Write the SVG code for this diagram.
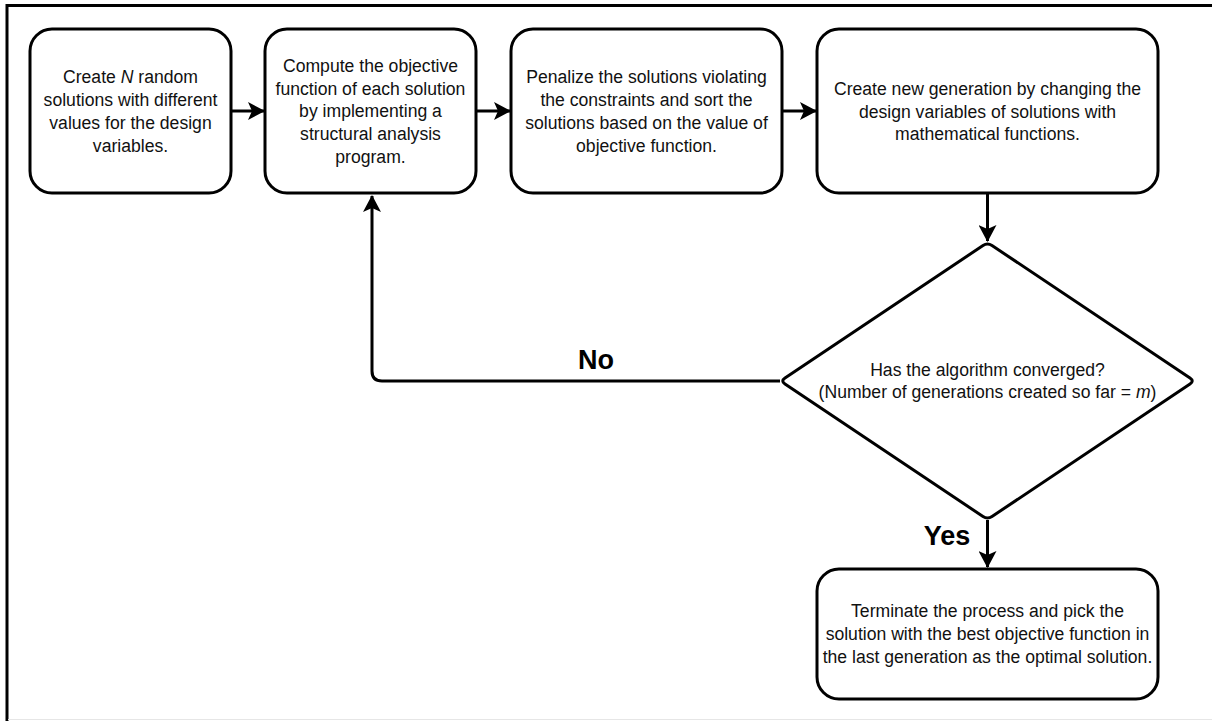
<svg xmlns="http://www.w3.org/2000/svg" width="1212" height="721" viewBox="0 0 1212 721">
<style>
.box{fill:#fff;stroke:#000;stroke-width:3}
.t{font-family:"Liberation Sans",Arial,sans-serif;font-size:17.6px;fill:#111;text-anchor:middle}
.lbl{font-family:"Liberation Sans",Arial,sans-serif;font-size:27px;font-weight:bold;fill:#000;text-anchor:middle}
.c{fill:none;stroke:#000;stroke-width:3}
</style>
<defs>
<marker id="ah" viewBox="0 0 17 18" refX="16" refY="9" markerWidth="17" markerHeight="18" markerUnits="userSpaceOnUse" orient="auto">
<path d="M0,0 L17,9 L0,18 L4,9 Z" fill="#000"/>
</marker>
</defs>
<rect x="0" y="0" width="1212" height="721" fill="#fff"/>
<g id="frame">
<line x1="6" y1="5.5" x2="1212" y2="5.5" stroke="#000" stroke-width="3"/>
<line x1="7" y1="4" x2="7" y2="721" stroke="#000" stroke-width="3"/>
<line x1="8" y1="719.5" x2="1212" y2="719.5" stroke="#e6e6e6" stroke-width="1"/>
</g>
<g id="connectors">
<line class="c" x1="231" y1="111" x2="264" y2="111" marker-end="url(#ah)"/>
<line class="c" x1="476" y1="111" x2="510" y2="111" marker-end="url(#ah)"/>
<line class="c" x1="782" y1="111" x2="816" y2="111" marker-end="url(#ah)"/>
<line class="c" x1="987.5" y1="193" x2="987.5" y2="241" marker-end="url(#ah)"/>
<line class="c" x1="987.5" y1="520" x2="987.5" y2="567" marker-end="url(#ah)"/>
<path class="c" d="M780,381 L382,381 Q372,381 372,371 L372,196" marker-end="url(#ah)"/>
</g>
<g id="n1">
<rect class="box" x="30" y="29" width="201" height="164" rx="22"/>
<text class="t" x="130.5" y="83">Create <tspan font-style="italic">N</tspan> random</text>
<text class="t" x="130.5" y="106">solutions with different</text>
<text class="t" x="130.5" y="129">values for the design</text>
<text class="t" x="130.5" y="151.5">variables.</text>
</g>
<g id="n2">
<rect class="box" x="265" y="29" width="211" height="164" rx="22"/>
<text class="t" x="370.5" y="72">Compute the objective</text>
<text class="t" x="370.5" y="94.5">function of each solution</text>
<text class="t" x="370.5" y="117">by implementing a</text>
<text class="t" x="370.5" y="140">structural analysis</text>
<text class="t" x="370.5" y="162.5">program.</text>
</g>
<g id="n3">
<rect class="box" x="511" y="29" width="271" height="164" rx="22"/>
<text class="t" x="646.5" y="83">Penalize the solutions violating</text>
<text class="t" x="646.5" y="106">the constraints and sort the</text>
<text class="t" x="646.5" y="129">solutions based on the value of</text>
<text class="t" x="646.5" y="151.5">objective function.</text>
</g>
<g id="n4">
<rect class="box" x="817" y="29" width="341" height="164" rx="22"/>
<text class="t" x="987.5" y="95">Create new generation by changing the</text>
<text class="t" x="987.5" y="117.5">design variables of solutions with</text>
<text class="t" x="987.5" y="140">mathematical functions.</text>
</g>
<g id="n5">
<path class="box" stroke-linejoin="round" d="M983,245.5 Q987.5,242.5 992,245.5 L1190,378 Q1194.5,381 1190,384 L992,516.5 Q987.5,519.5 983,516.5 L785,384 Q780.5,381 785,378 Z"/>
<text class="t" x="987.5" y="376">Has the algorithm converged?</text>
<text class="t" x="987.5" y="398">(Number of generations created so far = <tspan font-style="italic">m</tspan>)</text>
</g>
<g id="n6">
<rect class="box" x="817" y="569" width="341" height="130" rx="22"/>
<text class="t" x="987.5" y="617">Terminate the process and pick the</text>
<text class="t" x="987.5" y="640">solution with the best objective function in</text>
<text class="t" x="987.5" y="663">the last generation as the optimal solution.</text>
</g>
<g id="labels">
<text class="lbl" x="596" y="369">No</text>
<text class="lbl" x="947" y="545">Yes</text>
</g>
</svg>
